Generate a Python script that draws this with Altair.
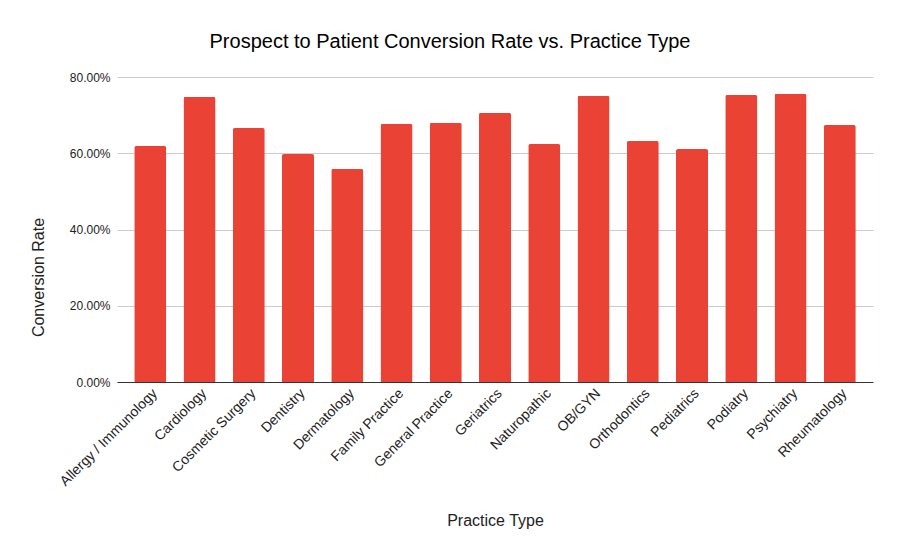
import altair as alt
import pandas as pd

practice_types = [
    "Allergy / Immunology", "Cardiology", "Cosmetic Surgery", "Dentistry",
    "Dermatology", "Family Practice", "General Practice", "Geriatrics",
    "Naturopathic", "OB/GYN", "Orthodontics", "Pediatrics", "Podiatry",
    "Psychiatry", "Rheumatology",
]
conversion_rates = [
    0.619, 0.748, 0.666, 0.598, 0.559, 0.677, 0.680, 0.706,
    0.624, 0.751, 0.632, 0.611, 0.753, 0.756, 0.674,
]

df = pd.DataFrame({"Practice Type": practice_types, "Conversion Rate": conversion_rates})

FONT = "Liberation Sans"

chart = (
    alt.Chart(df)
    .mark_bar(color="#EA4335", cornerRadiusTopLeft=2, cornerRadiusTopRight=2)
    .encode(
        x=alt.X(
            "Practice Type:N",
            sort=practice_types,
            scale=alt.Scale(paddingInner=0.35, paddingOuter=0.35),
            axis=alt.Axis(
                title="Practice Type",
                labelAngle=-45,
                labelAlign="right",
                labelBaseline="top",
                labelFontSize=14,
                labelColor="#222222",
                labelPadding=4,
                ticks=False,
                domainColor="#333333",
                domainWidth=1,
                titleFontSize=16,
                titleFontWeight="normal",
                titleColor="#222222",
                titleY=138,
                titleBaseline="middle",
            ),
        ),
        y=alt.Y(
            "Conversion Rate:Q",
            scale=alt.Scale(domain=[0, 0.8]),
            axis=alt.Axis(
                title="Conversion Rate",
                format=".2%",
                values=[0, 0.2, 0.4, 0.6, 0.8],
                labelFontSize=12,
                labelColor="#222222",
                labelPadding=7,
                ticks=False,
                domain=False,
                gridColor="#cccccc",
                titleFontSize=16,
                titleFontWeight="normal",
                titleColor="#222222",
                titleX=-79,
                titleY=200,
                titleAngle=-90,
                titleBaseline="middle",
                titleAlign="center",
            ),
        ),
    )
    .properties(
        width=756,
        height=305,
        title=alt.TitleParams(
            "Prospect to Patient Conversion Rate vs. Practice Type",
            fontSize=20,
            fontWeight="normal",
            font=FONT,
            color="#000000",
            anchor="middle",
            dx=-45,
            offset=19,
        ),
        autosize=alt.AutoSizeParams(type="none"),
        padding={"left": 109, "top": 69, "right": 19, "bottom": 168},
    )
    .configure(font=FONT, background="white")
    .configure_view(stroke=None)
    .configure_axis(labelFont=FONT, titleFont=FONT)
)

chart.save("out.html", embed_options={"renderer": "svg", "actions": False})
